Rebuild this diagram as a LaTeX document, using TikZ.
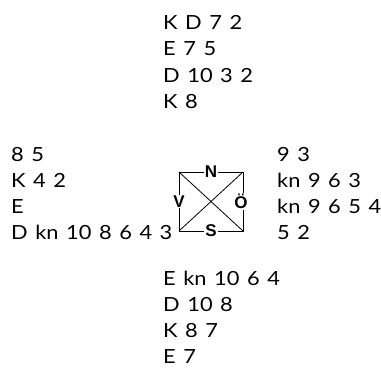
\documentclass[tikz,border=0pt]{standalone}
\usepackage{fontspec}
\newfontfamily\handfont[FakeStretch=1.12,WordSpace=1.35]{Lato}
\newfontfamily\dirfont{Liberation Sans}
\tikzset{
  hand/.style={anchor=base west, inner sep=0pt, font=\handfont\fontsize{19.5}{19.5}\selectfont},
  dir/.style={fill=white, inner sep=1pt, font=\dirfont\bfseries\fontsize{17}{17}\selectfont},
  boxline/.style={line width=0.8pt},
}
\begin{document}
\begin{tikzpicture}[x=1pt,y=-1pt]
\useasboundingbox (0,0) rectangle (381,380);
% North
\node[hand] (n1) at (163,30) {K D 7 2};
\node[hand] (n2) at (163,56) {E 7 5};
\node[hand] (n3) at (163,82) {D 10 3 2};
\node[hand] (n4) at (163,108) {K 8};
% West
\node[hand] (w1) at (11,161) {8 5};
\node[hand] (w2) at (11,187) {K 4 2};
\node[hand] (w3) at (11,213) {E};
\node[hand] (w4) at (11,239) {D kn 10 8 6 4 3};
% East
\node[hand] (e1) at (277,161) {9 3};
\node[hand] (e2) at (277,187) {kn 9 6 3};
\node[hand] (e3) at (277,213) {kn 9 6 5 4};
\node[hand] (e4) at (277,239) {5 2};
% South
\node[hand] (s1) at (163,285) {E kn 10 6 4};
\node[hand] (s2) at (163,311) {D 10 8};
\node[hand] (s3) at (163,337) {K 8 7};
\node[hand] (s4) at (163,363) {E 7};
% Compass
\coordinate (tl) at (179,172);
\coordinate (tr) at (243,172);
\coordinate (bl) at (179,231);
\coordinate (br) at (243,231);
\draw[boxline] (tl) -- (tr) -- (br) -- (bl) -- cycle;
\draw[boxline] (tl) -- (br);
\draw[boxline] (tr) -- (bl);
\node[dir] (N) at (211,172) {N};
\node[dir] (S) at (211,231) {S};
\node[dir] (V) at (179,201.5) {V};
\node[dir] (O) at (241,201.5) {Ö};
\end{tikzpicture}
\end{document}
